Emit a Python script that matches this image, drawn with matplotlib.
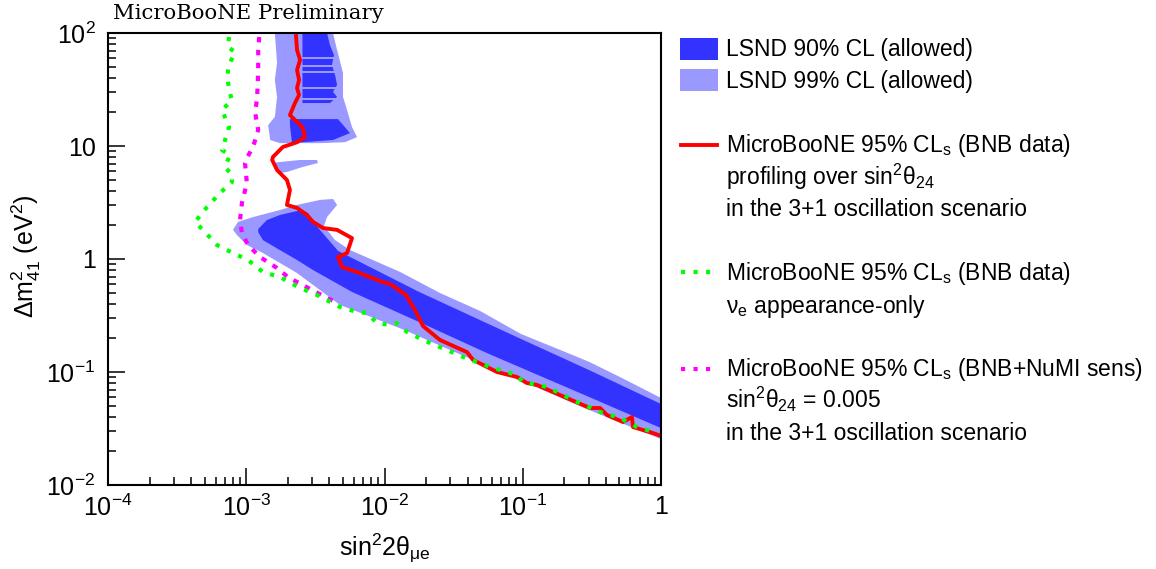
import matplotlib
matplotlib.use("Agg")
import matplotlib.pyplot as plt
from matplotlib.patches import Rectangle
from matplotlib.ticker import NullFormatter, LogLocator

plt.rcParams['font.family'] = ['Liberation Sans', 'DejaVu Sans']
plt.rcParams['mathtext.fontset'] = 'custom'
plt.rcParams['mathtext.rm'] = 'Liberation Sans'
plt.rcParams['mathtext.it'] = 'Liberation Sans:italic'
plt.rcParams['mathtext.bf'] = 'Liberation Sans:bold'

DARK = "#3333ff"
LIGHT = "#9999ff"
RED = "#ff0000"
GREEN = "#00ff00"
MAGENTA = "#ff00ff"
DOTS = (0, (1.0, 2.0))

# --- LSND 99% CL, main island (sin^2 2theta, dm^2) ---
lsnd99_x = [8.02e-4, 8.71e-4, 1.12e-3, 1.75e-3, 2.33e-3, 3.41e-3, 4.24e-3, 4.54e-3,
            3.84e-3, 3.65e-3, 4.39e-3, 5.63e-3, 1.30e-2, 2.52e-2, 4.91e-2, 9.71e-2,
            0.186, 0.302, 0.505, 1.0,
            1.0, 0.302, 5.51e-2, 1.34e-2, 4.77e-3, 2.33e-3, 1.32e-3, 1.01e-3, 8.57e-4]
lsnd99_y = [1.81, 2.13, 2.35, 2.71, 3.01, 3.33, 3.40, 3.01,
            2.35, 1.96, 1.47, 1.20, 0.767, 0.500, 0.347, 0.217,
            0.157, 0.123, 0.0903, 0.0589,
            0.0255, 0.0461, 0.113, 0.240, 0.392, 0.751, 1.13, 1.33, 1.63]

# LSND 99% CL, high dm^2 column
lsnd99_up_x = [1.61e-3, 1.67e-3, 1.61e-3, 1.67e-3, 1.61e-3, 1.44e-3, 1.49e-3, 1.75e-3,
               3.41e-3, 5.18e-3, 6.33e-3, 5.82e-3, 5.36e-3, 5.01e-3, 5.01e-3, 4.54e-3, 4.24e-3]
lsnd99_up_y = [100, 54.3, 38.4, 27.2, 18.1, 15.3, 11.3, 10.6,
               10.6, 10.8, 12.0, 14.7, 20.8, 27.2, 44.3, 70.7, 100]

# LSND 99% CL, small island near 7 eV^2
lsnd99_isl_x = [1.56e-3, 1.75e-3, 2.45e-3, 3.25e-3, 3.30e-3, 2.55e-3, 1.97e-3, 1.75e-3]
lsnd99_isl_y = [7.07, 7.22, 7.52, 7.52, 7.07, 6.52, 5.89, 5.77]

# --- LSND 90% CL, main island ---
lsnd90_x = [1.22e-3, 1.41e-3, 1.75e-3, 2.18e-3, 2.55e-3, 2.80e-3, 2.99e-3, 3.41e-3,
            4.61e-3, 1.78e-2, 9.71e-2, 0.302, 1.0,
            1.0, 0.302, 5.51e-2, 1.78e-2, 5.82e-3, 3.04e-3, 2.33e-3, 1.75e-3, 1.32e-3, 1.22e-3]
lsnd90_y = [1.84, 2.21, 2.45, 2.61, 2.71, 2.55, 2.21, 1.81,
            1.18, 0.511, 0.196, 0.104, 0.0521,
            0.0319, 0.0601, 0.147, 0.277, 0.511, 0.799, 0.980, 1.20, 1.47, 1.73]

# LSND 90% CL, high dm^2 column and lobe
lsnd90_up_x = [2.55e-3, 2.55e-3, 3.14e-3, 4.03e-3, 4.54e-3, 4.24e-3, 4.54e-3, 4.39e-3,
               4.17e-3, 4.31e-3, 4.03e-3, 3.84e-3]
lsnd90_up_y = [100, 24.0, 24.0, 24.0, 27.2, 30.1, 34.7, 42.5, 52.1, 63.8, 78.3, 100]
lsnd90_lobe_x = [2.07e-3, 4.61e-3, 5.63e-3, 4.24e-3, 2.55e-3, 2.14e-3, 2.07e-3]
lsnd90_lobe_y = [17.3, 17.3, 13.0, 11.3, 10.8, 10.8, 15.3]
# thin 99%-only gaps inside the 90% column
gap_dm2 = [60.1, 51.0, 45.2, 32.6, 26.1]

# --- MicroBooNE 95% CLs, BNB data, profiling over sin^2 theta_24 ---
red_x = [2.29e-3, 2.33e-3, 2.45e-3, 2.33e-3, 2.41e-3, 2.33e-3, 2.41e-3, 2.25e-3,
         2.07e-3, 2.25e-3, 2.55e-3, 2.66e-3, 2.33e-3, 1.84e-3, 1.56e-3, 1.54e-3,
         1.67e-3, 1.97e-3, 2.07e-3, 1.97e-3, 2.33e-3, 2.75e-3, 3.04e-3, 3.59e-3,
         4.54e-3, 5.82e-3, 5.36e-3, 4.61e-3, 4.93e-3, 6.33e-3, 8.83e-3, 1.13e-2,
         1.43e-2, 1.69e-2, 1.90e-2, 2.52e-2, 3.95e-2, 4.37e-2, 6.51e-2, 9.08e-2,
         0.107, 0.127, 0.186, 0.306, 0.362, 0.407, 0.531, 0.617, 0.627, 0.875, 1.0]
red_y = [94, 70.7, 57.7, 47.1, 38.4, 32.6, 28.3, 24.0,
         18.8, 17.0, 14.7, 12.0, 10.8, 9.80, 8.00, 7.52,
         6.13, 5.00, 4.08, 3.01, 2.83, 2.45, 2.13, 1.88,
         1.81, 1.53, 1.13, 1.04, 0.849, 0.767, 0.652, 0.589,
         0.480, 0.340, 0.255, 0.192, 0.150, 0.128, 0.100, 0.0903,
         0.0799, 0.0767, 0.0625, 0.0480, 0.0480, 0.0416, 0.0361, 0.0400, 0.0326, 0.0288, 0.0272]

# --- MicroBooNE 95% CLs, BNB data, nu_e appearance-only ---
green_x = [7.50e-4, 7.38e-4, 8.29e-4, 7.50e-4, 7.26e-4, 7.62e-4, 7.88e-4, 6.68e-4,
           7.50e-4, 6.68e-4, 7.62e-4, 7.02e-4, 7.88e-4, 7.88e-4, 6.46e-4, 5.20e-4,
           4.26e-4, 4.86e-4, 6.14e-4, 8.02e-4, 1.03e-3, 1.32e-3, 1.75e-3, 2.45e-3,
           3.25e-3, 4.77e-3, 6.33e-3, 7.47e-3, 8.83e-3, 1.10e-2, 1.23e-2, 1.46e-2,
           1.90e-2, 2.52e-2, 3.70e-2, 5.79e-2, 9.08e-2, 0.100, 0.150, 0.231,
           0.362, 0.505, 0.670, 0.936]
green_y = [92.2, 75.2, 67.9, 52.1, 40.8, 29.4, 25.5, 20.8,
           14.7, 9.22, 8.32, 6.52, 5.54, 4.80, 3.84, 2.88,
           2.13, 1.81, 1.33, 1.13, 0.980, 0.767, 0.693, 0.554,
           0.480, 0.376, 0.340, 0.333, 0.271, 0.261, 0.271, 0.226,
           0.192, 0.166, 0.136, 0.111, 0.0940, 0.0816, 0.0737, 0.0565,
           0.0443, 0.0392, 0.0326, 0.0288]

# --- MicroBooNE 95% CLs, BNB+NuMI sensitivity ---
mag_x = [1.24e-3, 1.22e-3, 1.22e-3, 1.20e-3, 1.16e-3, 1.22e-3, 1.12e-3, 1.01e-3,
         9.80e-4, 1.01e-3, 9.31e-4, 9.01e-4, 9.31e-4, 1.03e-3, 1.26e-3, 1.67e-3,
         2.00e-3, 2.33e-3, 2.99e-3, 3.84e-3, 4.61e-3]
mag_y = [92.2, 70.7, 47.1, 27.2, 19.6, 13.9, 9.80, 7.83,
         7.07, 4.71, 3.13, 2.21, 1.70, 1.33, 1.04, 0.832,
         0.693, 0.626, 0.532, 0.452, 0.408]

x_ticks = [1e-4, 1e-3, 1e-2, 1e-1, 1]
x_labels = ["$10^{-4}$", "$10^{-3}$", "$10^{-2}$", "$10^{-1}$", "1"]
y_ticks = [1e-2, 1e-1, 1, 10, 100]
y_labels = ["$10^{-2}$", "$10^{-1}$", "1", "10", "$10^{2}$"]

legend_rows = [
    (48, "LSND 90% CL (allowed)"),
    (80, "LSND 99% CL (allowed)"),
    (144, r"MicroBooNE 95% CL$_\mathregular{s}$ (BNB data)"),
    (177, r"profiling over sin$^\mathregular{2}$θ$_\mathregular{24}$"),
    (208, "in the 3+1 oscillation scenario"),
    (272, r"MicroBooNE 95% CL$_\mathregular{s}$ (BNB data)"),
    (305, r"ν$_\mathregular{e}$ appearance-only"),
    (368, r"MicroBooNE 95% CL$_\mathregular{s}$ (BNB+NuMI sens)"),
    (400, r"sin$^\mathregular{2}$θ$_\mathregular{24}$ = 0.005"),
    (432, "in the 3+1 oscillation scenario"),
]

W, H = 1156, 569
fig = plt.figure(figsize=(W / 100, H / 100), dpi=100)
ax = fig.add_axes([108 / W, 1 - 485 / H, (661 - 108) / W, (485 - 33) / H])
ax.set_xscale("log")
ax.set_yscale("log")

# LSND regions
ax.fill(lsnd99_x, lsnd99_y, color=LIGHT, lw=0)
ax.fill(lsnd99_up_x, lsnd99_up_y, color=LIGHT, lw=0)
ax.fill(lsnd99_isl_x, lsnd99_isl_y, color=LIGHT, lw=0)
ax.fill(lsnd90_x, lsnd90_y, color=DARK, lw=0)
ax.fill(lsnd90_up_x, lsnd90_up_y, color=DARK, lw=0)
ax.fill(lsnd90_lobe_x, lsnd90_lobe_y, color=DARK, lw=0)
for g in gap_dm2:
    ax.fill_between([min(lsnd90_up_x), max(lsnd90_up_x)], g / 1.02, g * 1.02,
                    color=LIGHT, lw=0)

# exclusion curves
ax.plot(red_x, red_y, color=RED, lw=2.8, solid_joinstyle="round")
ax.plot(mag_x, mag_y, color=MAGENTA, lw=3, ls=(0, (1.3, 1.8)), dash_capstyle="butt")
ax.plot(green_x, green_y, color=GREEN, lw=3, ls=DOTS, dash_capstyle="butt")

ax.set_xlim(1e-4, 1)
ax.set_ylim(1e-2, 1e2)
ax.set_xticks(x_ticks)
ax.set_xticklabels(x_labels)
ax.set_yticks(y_ticks)
ax.set_yticklabels(y_labels)
ax.xaxis.set_minor_locator(LogLocator(base=10, subs=range(2, 10), numticks=20))
ax.yaxis.set_minor_locator(LogLocator(base=10, subs=range(2, 10), numticks=20))
ax.xaxis.set_minor_formatter(NullFormatter())
ax.yaxis.set_minor_formatter(NullFormatter())
ax.tick_params(which="both", direction="in", top=False, right=False, width=1.1)
ax.tick_params(which="major", length=12, labelsize=18)
ax.tick_params(which="minor", length=6)
ax.tick_params(axis="x", which="major", pad=7)
ax.tick_params(axis="y", which="major", pad=9)
for s in ax.spines.values():
    s.set_linewidth(1.5)

# overlay in pixel coordinates for titles and legend
ov = fig.add_axes([0, 0, 1, 1], zorder=5)
ov.set_xlim(0, W)
ov.set_ylim(H, 0)
ov.axis("off")

ov.text(113, 19, "MicroBooNE Preliminary", family="DejaVu Serif", fontsize=15.3,
        ha="left", va="baseline")
ov.text(385, 548, r"sin$^\mathregular{2}$2θ$_\mathregular{μe}$", fontsize=18,
        ha="center", va="center")
ov.text(26, 256, r"Δm$^\mathregular{2}_\mathregular{41}$ (eV$^\mathregular{2}$)", fontsize=18,
        ha="center", va="center", rotation=90)

ov.add_patch(Rectangle((680, 38), 38, 22, color=DARK, lw=0))
ov.add_patch(Rectangle((680, 69), 38, 22, color=LIGHT, lw=0))
ov.plot([681, 717], [145, 145], color=RED, lw=2.8)
ov.plot([681, 717], [272, 272], color=GREEN, lw=3, ls=DOTS, dash_capstyle="butt")
ov.plot([681, 717], [369, 369], color=MAGENTA, lw=3, ls=DOTS, dash_capstyle="butt")
for yc, txt in legend_rows:
    ov.text(726, yc + 8, txt, fontsize=16.5, ha="left", va="baseline")

fig.savefig("out.png", dpi=100)
